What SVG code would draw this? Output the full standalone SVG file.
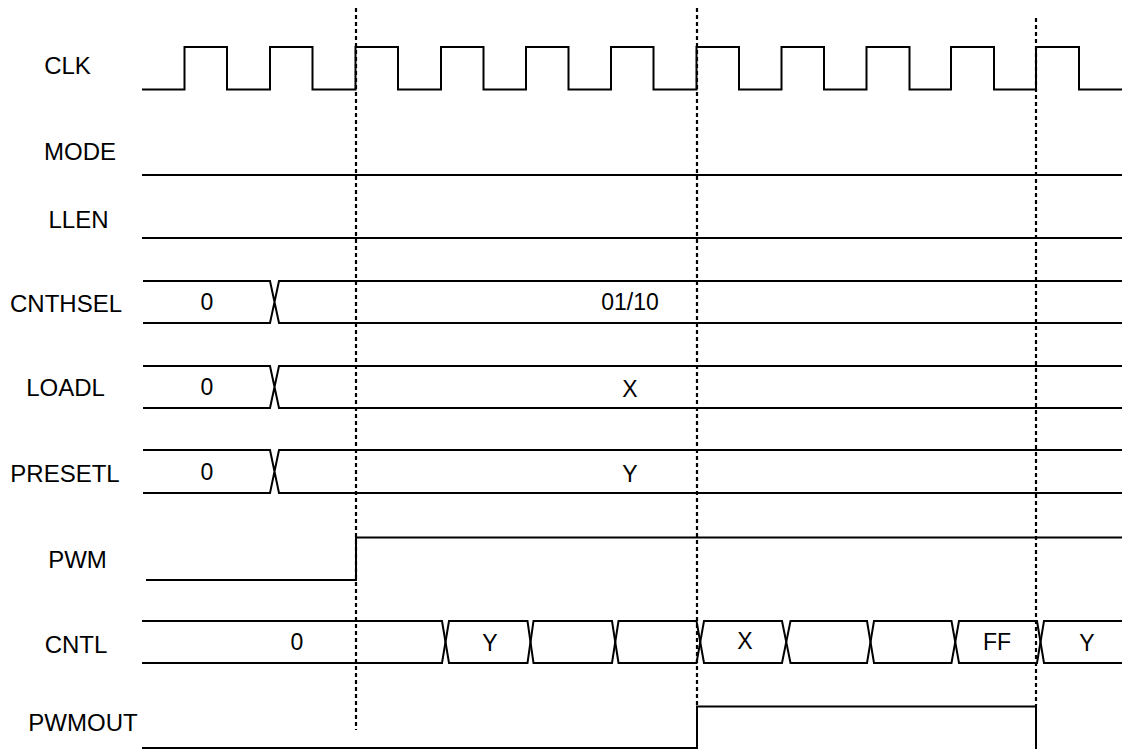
<svg xmlns="http://www.w3.org/2000/svg" width="1123" height="749" viewBox="0 0 1123 749">
<style>
.w{fill:none;stroke:#000;stroke-width:2;stroke-linejoin:miter}
.d{fill:none;stroke:#000;stroke-width:2.2;stroke-dasharray:4,3}
.l{font-family:"Liberation Sans",Arial,sans-serif;font-size:24px;fill:#000;text-anchor:middle}
.v{font-family:"Liberation Sans",Arial,sans-serif;font-size:23px;fill:#000;text-anchor:middle}
</style>
<rect width="1123" height="749" fill="#fff"/>
<g id="labels">
<text class="l" x="67.5" y="74">CLK</text>
<text class="l" x="80" y="160">MODE</text>
<text class="l" x="78.5" y="228">LLEN</text>
<text class="l" x="66" y="312">CNTHSEL</text>
<text class="l" x="65.5" y="396">LOADL</text>
<text class="l" x="65" y="482">PRESETL</text>
<text class="l" x="77.5" y="568">PWM</text>
<text class="l" x="76" y="653">CNTL</text>
<text class="l" x="83" y="731">PWMOUT</text>
</g>
<g id="clk">
<path class="w" d="M142,89.5 H184.5 V47 H227 V89.5 H270 V47 H312.5 V89.5 H355.5 V47 H398 V89.5 H441 V47 H483.5 V89.5 H526 V47 H568.5 V89.5 H611 V47 H653.5 V89.5 H696.5 V47 H739 V89.5 H781.5 V47 H824 V89.5 H866.5 V47 H909.5 V89.5 H951 V47 H994 V89.5 H1036 V47 H1079 V89.5 H1122"/>
</g>
<g id="mode"><path class="w" d="M142,175 H1122"/></g>
<g id="llen"><path class="w" d="M142,238 H1122"/></g>
<g id="cnthsel">
<path class="w" d="M143,281 H270 L279,323 H1122 M143,323 H270 L279,281 H1122"/>
<text class="v" x="207" y="310">0</text>
<text class="v" x="630" y="310">01/10</text>
</g>
<g id="loadl">
<path class="w" d="M143,366 H270 L279,408 H1122 M143,408 H270 L279,366 H1122"/>
<text class="v" x="207" y="395">0</text>
<text class="v" x="630" y="397">X</text>
</g>
<g id="presetl">
<path class="w" d="M143,450 H270 L279,493 H1122 M143,493 H270 L279,450 H1122"/>
<text class="v" x="207" y="480">0</text>
<text class="v" x="630" y="482">Y</text>
</g>
<g id="pwm">
<path class="w" d="M146,580 H356 V537.5 H1122"/>
</g>
<g id="cntl">
<path class="w" d="M142,621 H442 L449,663 H527.5 L533.5,621 H612 L618.5,663 H696.5 L704,621 H782 L790.5,663 H867 L874,621 H951.5 L959,663 H1037 L1044,621 H1122"/>
<path class="w" d="M142,663 H442 L449,621 H527.5 L533.5,663 H612 L618.5,621 H696.5 L704,663 H782 L790.5,621 H867 L874,663 H951.5 L959,621 H1037 L1044,663 H1122"/>
<text class="v" x="297" y="650">0</text>
<text class="v" x="490" y="651">Y</text>
<text class="v" x="745" y="649">X</text>
<text class="v" x="997" y="650">FF</text>
<text class="v" x="1087" y="651">Y</text>
</g>
<g id="pwmout">
<path class="w" d="M142,748 H697 V706.5 H1036 V749"/>
</g>
<g id="connectors">
<path class="d" d="M356,8 V730"/>
<path class="d" d="M697,8 V706"/>
<path class="d" d="M1036,18 V706"/>
</g>
</svg>
